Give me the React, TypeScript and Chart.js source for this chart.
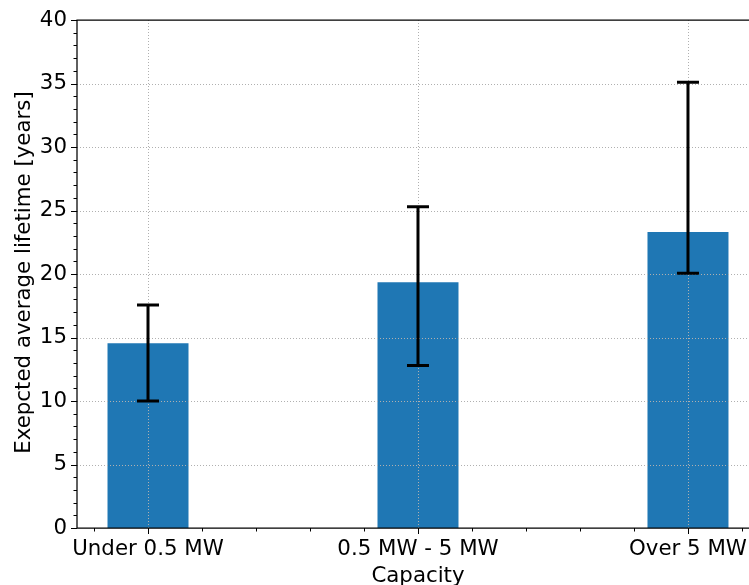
import React, { useEffect, useRef } from 'react';
import { Chart, registerables } from 'chart.js';

Chart.register(...registerables);

const categories = ['Under 0.5 MW', '0.5 MW - 5 MW', 'Over 5 MW'];
const positions = [0, 1, 2];
const meanLifetime = [14.55, 19.35, 23.3];
const lowerBound = [10.0, 12.8, 20.05];
const upperBound = [17.55, 25.3, 35.1];
const yMajorTicks = [0, 5, 10, 15, 20, 25, 30, 35, 40];
const xTitle = 'Capacity';
const yTitle = 'Exepcted average lifetime [years]';

const FONT = "'DejaVu Sans', sans-serif";
const FS = 21.33;
const isInt = (v: number) => Math.abs(v - Math.round(v)) < 1e-6;
const isMajorY = (v: number) => yMajorTicks.some((t) => Math.abs(t - v) < 1e-6);

const gridPlugin = {
  id: 'mplGrid',
  afterDatasetsDraw(chart: any) {
    const { ctx, chartArea, scales } = chart;
    const x = scales.x;
    const y = scales.y;
    ctx.save();
    ctx.strokeStyle = '#b0b0b0';
    ctx.lineWidth = 1;
    ctx.setLineDash([1, 2]);
    x.ticks.forEach((t: any) => {
      if (!isInt(t.value)) return;
      const px = Math.round(x.getPixelForValue(t.value)) + 0.5;
      ctx.beginPath();
      ctx.moveTo(px, chartArea.top);
      ctx.lineTo(px, chartArea.bottom);
      ctx.stroke();
    });
    y.ticks.forEach((t: any) => {
      if (!isMajorY(t.value) || t.value === 0 || t.value === 40) return;
      const py = Math.round(y.getPixelForValue(t.value)) + 0.5;
      ctx.beginPath();
      ctx.moveTo(chartArea.left, py);
      ctx.lineTo(chartArea.right, py);
      ctx.stroke();
    });
    ctx.restore();
  },
};

const decorPlugin = {
  id: 'decor',
  afterDraw(chart: any) {
    const { ctx, chartArea, scales } = chart;
    const x = scales.x;
    const y = scales.y;
    ctx.save();
    // spines
    ctx.strokeStyle = '#000';
    ctx.lineWidth = 1.25;
    ctx.beginPath();
    ctx.moveTo(chartArea.right + 2, chartArea.top);
    ctx.lineTo(chartArea.left, chartArea.top);
    ctx.lineTo(chartArea.left, chartArea.bottom);
    ctx.lineTo(chartArea.right + 2, chartArea.bottom);
    ctx.stroke();
    // tick marks
    ctx.lineWidth = 1;
    x.ticks.forEach((t: any) => {
      const px = Math.round(x.getPixelForValue(t.value)) + 0.5;
      const len = isInt(t.value) ? 6 : 3.5;
      ctx.beginPath();
      ctx.moveTo(px, chartArea.bottom);
      ctx.lineTo(px, chartArea.bottom + len);
      ctx.stroke();
    });
    y.ticks.forEach((t: any) => {
      const py = Math.round(y.getPixelForValue(t.value)) + 0.5;
      const len = isMajorY(t.value) ? 6 : 3.5;
      ctx.beginPath();
      ctx.moveTo(chartArea.left, py);
      ctx.lineTo(chartArea.left - len, py);
      ctx.stroke();
    });
    // error bars
    ctx.lineWidth = 3;
    ctx.strokeStyle = '#000';
    positions.forEach((p, i) => {
      const px = x.getPixelForValue(p);
      const top = y.getPixelForValue(upperBound[i]);
      const bot = y.getPixelForValue(lowerBound[i]);
      ctx.beginPath();
      ctx.moveTo(px, top);
      ctx.lineTo(px, bot);
      ctx.moveTo(px - 11, top);
      ctx.lineTo(px + 11, top);
      ctx.moveTo(px - 11, bot);
      ctx.lineTo(px + 11, bot);
      ctx.stroke();
    });
    // axis titles
    ctx.fillStyle = '#000';
    ctx.font = `${FS}px ${FONT}`;
    ctx.textAlign = 'center';
    ctx.textBaseline = 'alphabetic';
    ctx.fillText(xTitle, x.getPixelForValue(1), 581.5);
    ctx.save();
    ctx.translate(29.5, 272.5);
    ctx.rotate(-Math.PI / 2);
    ctx.fillText(yTitle, 0, 0);
    ctx.restore();
    ctx.restore();
  },
};

export default function App() {
  const ref = useRef<HTMLCanvasElement | null>(null);
  useEffect(() => {
    if (!ref.current) return;
    const chart = new Chart(ref.current, {
      type: 'bar',
      data: {
        datasets: [
          {
            data: positions.map((p, i) => ({ x: p, y: meanLifetime[i] })),
            backgroundColor: '#1f77b4',
            borderWidth: 0,
            barPercentage: 1.5,
            categoryPercentage: 1,
          },
        ],
      },
      options: {
        responsive: false,
        animation: false,
        layout: { padding: { top: 20, right: 0, left: 0, bottom: 0 } },
        plugins: { legend: { display: false }, tooltip: { enabled: false } },
        scales: {
          x: {
            type: 'linear',
            min: -0.263,
            max: 2.226,
            offset: false,
            afterFit: (s: any) => {
              s.height = 57;
              s.paddingLeft = 0;
              s.paddingRight = 0;
              s.paddingTop = 0;
              s.paddingBottom = 0;
            },
            ticks: {
              stepSize: 0.2,
              includeBounds: false,
              autoSkip: false,
              maxRotation: 0,
              maxTicksLimit: 1000,
              padding: 9,
              color: '#000',
              font: { family: FONT, size: FS },
              callback: (v: any) => (isInt(v) ? categories[Math.round(v)] ?? '' : ''),
            },
            grid: { display: false, drawTicks: false, offset: false },
            border: { display: false },
          },
          y: {
            type: 'linear',
            min: 0,
            max: 40,
            afterFit: (s: any) => {
              s.width = 77;
              s.paddingLeft = 0;
              s.paddingRight = 0;
              s.paddingTop = 0;
              s.paddingBottom = 0;
            },
            ticks: {
              stepSize: 1,
              includeBounds: false,
              autoSkip: false,
              maxTicksLimit: 1000,
              padding: 10,
              color: '#000',
              font: { family: FONT, size: FS },
              callback: (v: any) => (isMajorY(v) ? String(Math.round(v)) : ''),
            },
            grid: { display: false, drawTicks: false },
            border: { display: false },
          },
        },
      },
      plugins: [gridPlugin, decorPlugin],
    } as any);
    return () => chart.destroy();
  }, []);
  return (
    <div style={{ position: 'absolute', left: 0, top: 0, width: 749, height: 585, background: '#fff' }}>
      <canvas ref={ref} width={749} height={585} />
    </div>
  );
}
